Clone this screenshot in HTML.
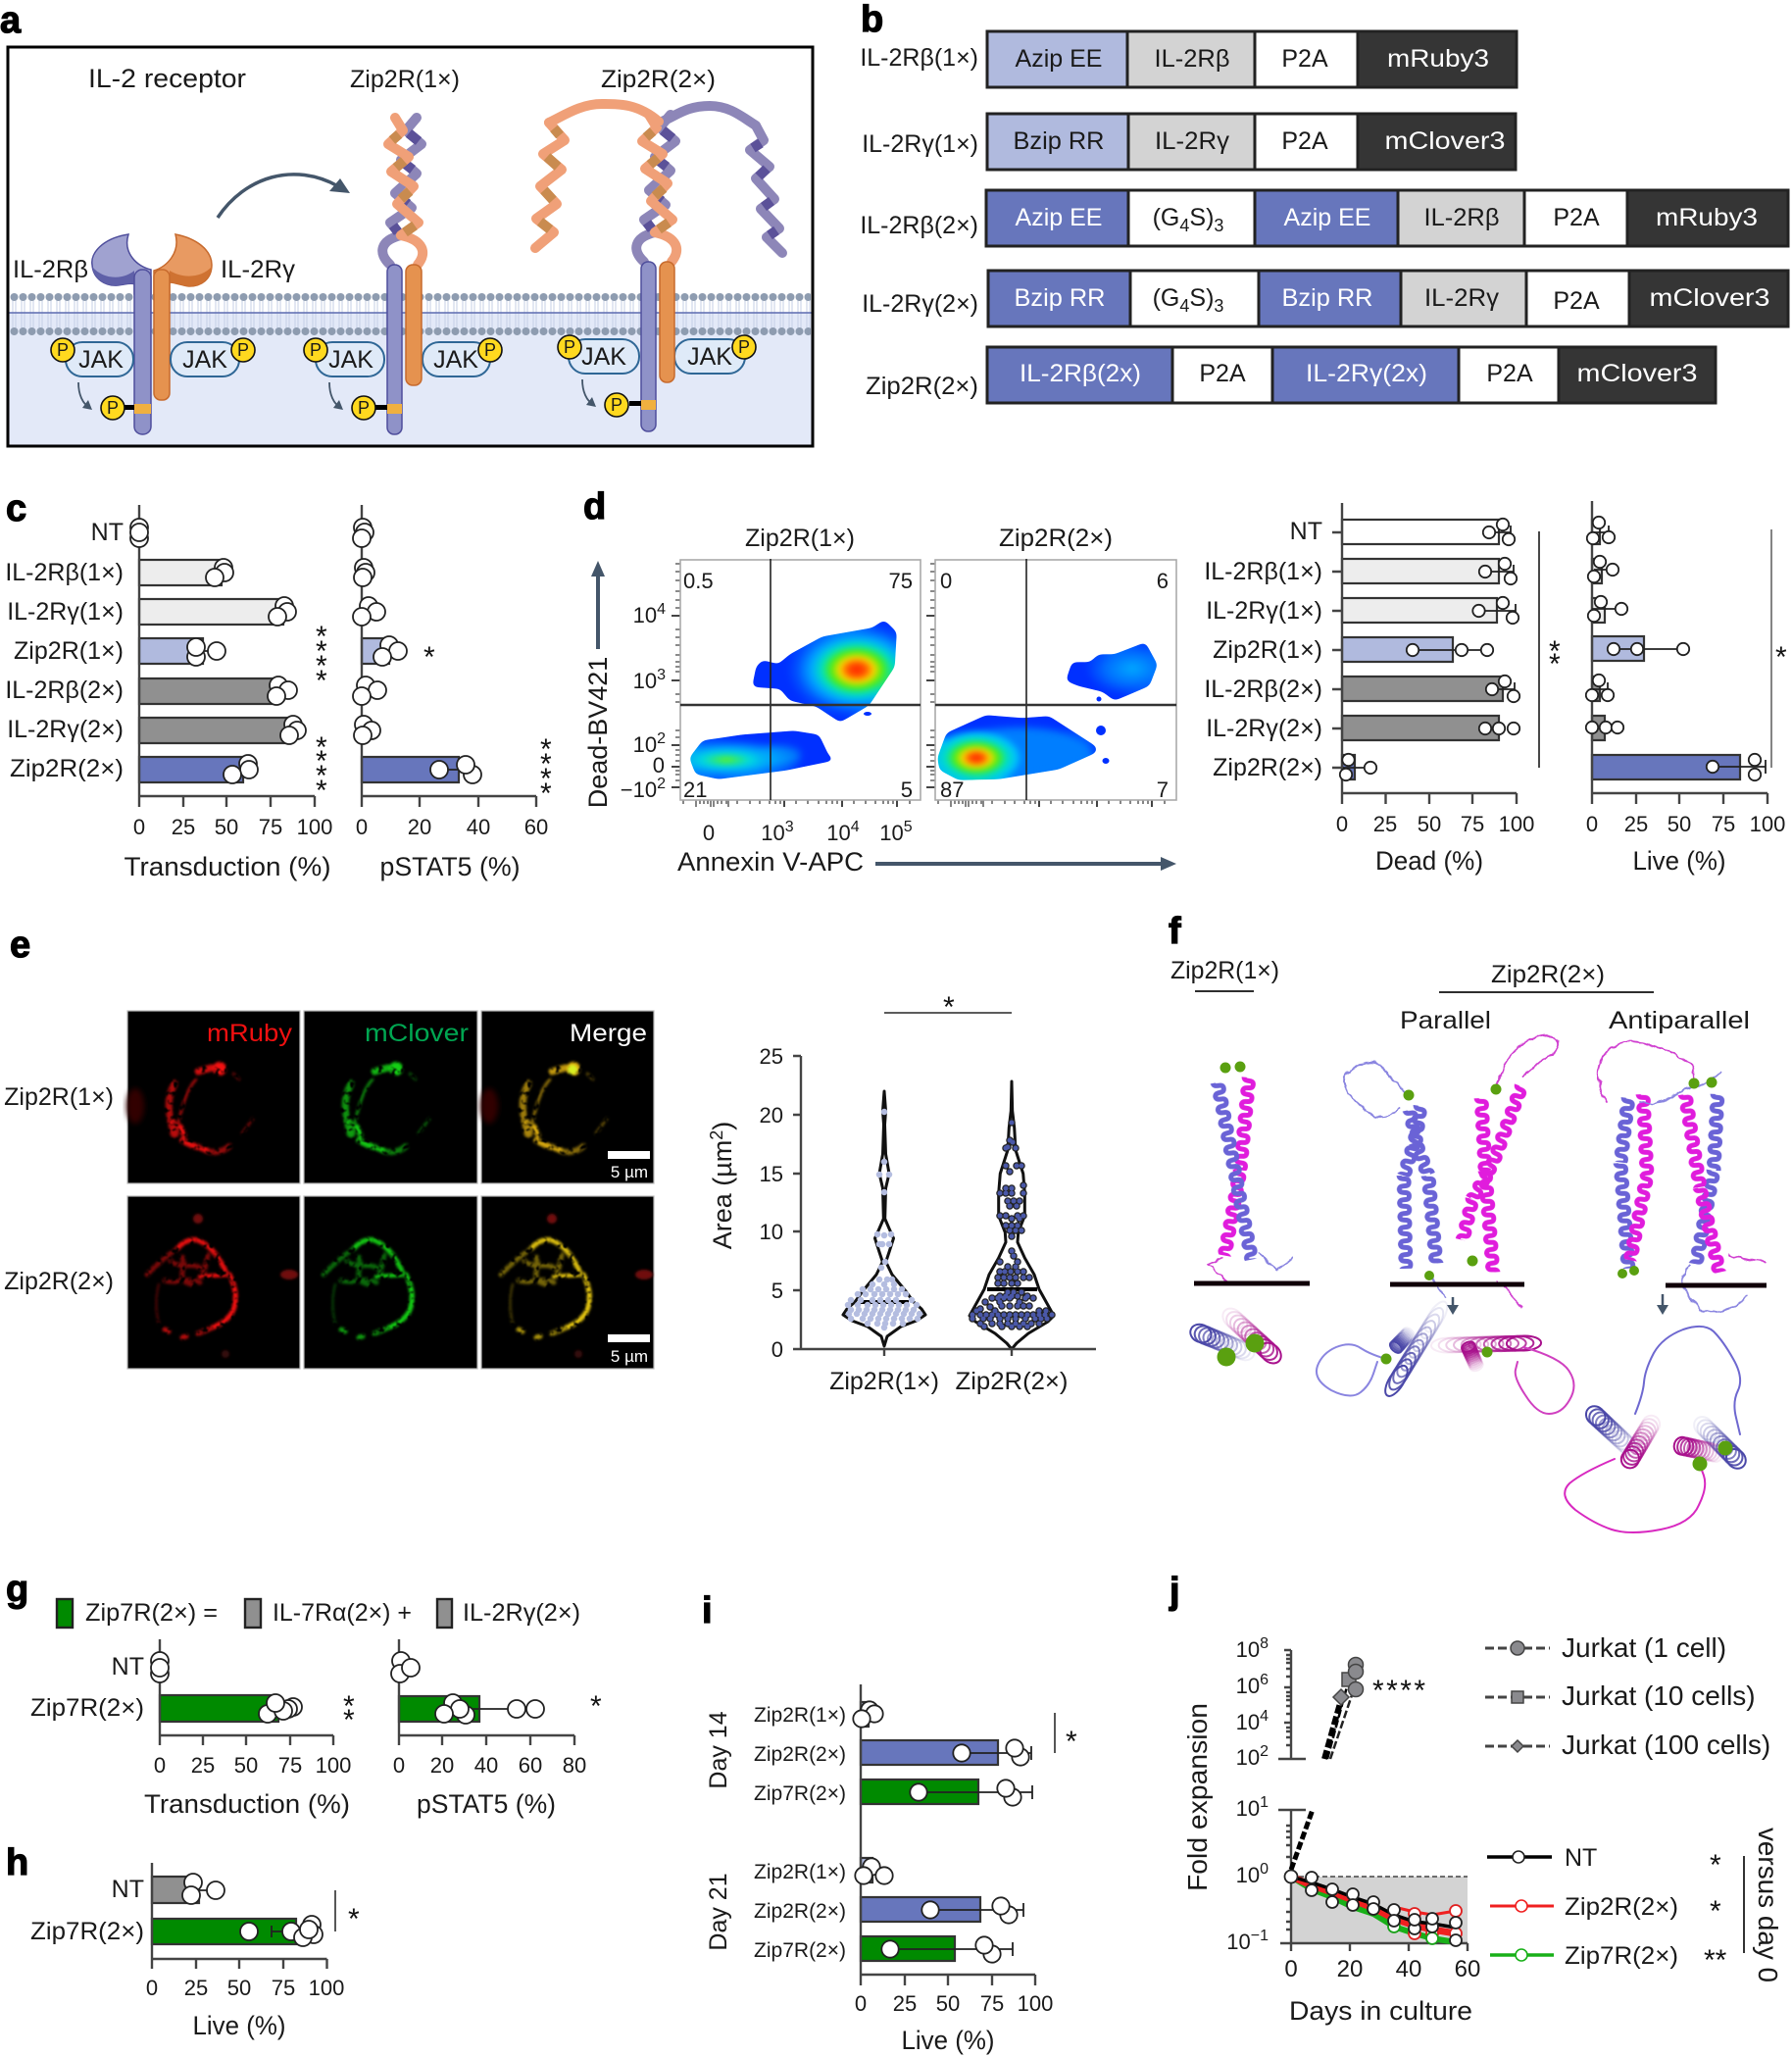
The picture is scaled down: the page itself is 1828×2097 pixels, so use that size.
<!DOCTYPE html>
<html><head><meta charset="utf-8"><title>Figure</title>
<style>
html,body{margin:0;padding:0;background:#fff}
svg{display:block}
text{font-family:"Liberation Sans",sans-serif;fill:#1a1a1a}
.L{font-size:38px;font-weight:bold;fill:#000;stroke:#000;stroke-width:1.2px}
.t{font-size:25px}.a{font-size:27px}.n{font-size:22px}.k{font-size:22px}
.e{text-anchor:end}.m{text-anchor:middle}
.w{fill:#fff}
.s{font-size:30px;fill:#111}
.bar{stroke:#333;stroke-width:2.2}
.ax{stroke:#444;stroke-width:2.4;fill:none}
.o circle{fill:#fff;stroke:#222;stroke-width:1.8}
.er{stroke:#222;stroke-width:1.8;fill:none}
.lp{fill:none;stroke-linejoin:round;stroke-linecap:round}
#ch ellipse{fill:none;stroke:currentColor;stroke-width:2;vector-effect:non-scaling-stroke}
</style></head><body>
<svg xmlns="http://www.w3.org/2000/svg" width="1828" height="2097" viewBox="0 0 1828 2097">
<defs>
<pattern id="lip" x="10" y="299" width="9" height="43" patternUnits="userSpaceOnUse">
<path d="M3 4V39M6 4V39" stroke="#c4cfe6" stroke-width="1"/>
<circle cx="4.5" cy="4" r="4" fill="#8e9cb0"/><circle cx="4.5" cy="39" r="4" fill="#8e9cb0"/>
</pattern>
<pattern id="pb" x="-8" y="0" width="16" height="14" patternUnits="userSpaceOnUse"><path d="M3 -1C3 7 13 0 13 7C13 14 3 7 3 15" fill="none" stroke="#6a63d6" stroke-width="5"/></pattern>
<pattern id="pm" x="-8" y="0" width="16" height="14" patternUnits="userSpaceOnUse"><path d="M3 -1C3 7 13 0 13 7C13 14 3 7 3 15" fill="none" stroke="#e01cdc" stroke-width="5"/></pattern>
<g id="ch">
<ellipse cy="0" rx="10" ry="8" opacity=".08"/><ellipse cy="3.500" rx="10" ry="8" opacity=".14"/><ellipse cy="7" rx="10" ry="8" opacity=".2"/><ellipse cy="10.500" rx="10" ry="8" opacity=".28"/><ellipse cy="14" rx="10" ry="8" opacity=".36"/><ellipse cy="17.500" rx="10" ry="8" opacity=".46"/><ellipse cy="21" rx="10" ry="8" opacity=".56"/><ellipse cy="24.500" rx="10" ry="8" opacity=".68"/><ellipse cy="28" rx="10" ry="8" opacity=".8"/><ellipse cy="31.500" rx="10" ry="8" opacity=".9"/><ellipse cy="35" rx="10" ry="8"/>
</g>
<filter id="b1" x="-20%" y="-20%" width="140%" height="140%"><feGaussianBlur stdDeviation="1.2"/></filter>
<filter id="b3" x="-20%" y="-20%" width="140%" height="140%"><feGaussianBlur stdDeviation="3"/></filter>
<filter id="sp" x="-15%" y="-15%" width="130%" height="130%" color-interpolation-filters="sRGB">
<feGaussianBlur in="SourceGraphic" stdDeviation="1.3" result="b"/>
<feTurbulence type="fractalNoise" baseFrequency=".17" numOctaves="2" seed="4"/>
<feColorMatrix values="0 0 0 0 1 0 0 0 0 1 0 0 0 0 1 0 0 0 4.500 -1.300"/>
<feComposite in="b" operator="in"/>
<feGaussianBlur stdDeviation=".6"/>
</filter>
<filter id="goo" x="-10%" y="-10%" width="120%" height="120%" color-interpolation-filters="sRGB">
<feGaussianBlur in="SourceGraphic" stdDeviation="3"/>
<feColorMatrix values="1 0 0 0 0 0 1 0 0 0 0 0 1 0 0 0 0 0 16 -6"/>
</filter>
<filter id="wg" x="-10%" y="-10%" width="120%" height="120%">
<feTurbulence type="fractalNoise" baseFrequency=".09" numOctaves="2" seed="7" result="n"/>
<feDisplacementMap in="SourceGraphic" in2="n" scale="7" xChannelSelector="R" yChannelSelector="G"/>
</filter>
<radialGradient id="j1"><stop offset="0" stop-color="#ff2000"/><stop offset=".14" stop-color="#ff5a00"/><stop offset=".24" stop-color="#ffd800"/><stop offset=".36" stop-color="#50ee10"/><stop offset=".5" stop-color="#00e0c0"/><stop offset=".64" stop-color="#00a8ff"/><stop offset=".85" stop-color="#0050ff"/><stop offset="1" stop-color="#0030ff"/></radialGradient>
<radialGradient id="j1t"><stop offset="0" stop-color="#ff2000"/><stop offset=".16" stop-color="#ff5a00"/><stop offset=".28" stop-color="#ffd800"/><stop offset=".44" stop-color="#50ee10"/><stop offset=".62" stop-color="#00e0c0"/><stop offset=".82" stop-color="#00c0ff"/><stop offset="1" stop-color="#0080ff" stop-opacity="0"/></radialGradient>
<radialGradient id="j2"><stop offset="0" stop-color="#70f010"/><stop offset=".14" stop-color="#30e870"/><stop offset=".32" stop-color="#00d8e0"/><stop offset=".58" stop-color="#00a0ff"/><stop offset=".82" stop-color="#0060ff"/><stop offset="1" stop-color="#0030ff"/></radialGradient>
<radialGradient id="j3"><stop offset="0" stop-color="#00a8ff"/><stop offset=".55" stop-color="#0070ff"/><stop offset="1" stop-color="#0030ff"/></radialGradient>
<g id="hx" class="lp">
<path d="M398 270C385 258 388 245 409 240" stroke="#8d86b8" stroke-width="10"/>
<polyline points="425,120 414,133 430,147 409,163 425,177 403,197 420,212 398,227 409,240" stroke="#8d86b8" stroke-width="10"/>
<path d="M417 136L427 144M413 167L421 173M407 201L416 208M401 230L406 237" stroke="#5b5199" stroke-width="10" stroke-linecap="butt"/>
<path d="M426 270C436 258 432 245 409 240" stroke="#f0a078" stroke-width="10"/>
<polyline points="403,120 411,133 396,147 417,160 399,175 422,190 405,208 427,227 409,240" stroke="#f0a078" stroke-width="10"/>
<path d="M407 137L400 143M412 164L404 171M418 195L409 203M423 230L413 237" stroke="#c98b4f" stroke-width="10" stroke-linecap="butt"/>
</g>
<g id="c1" fill="none" stroke="currentColor" stroke-linecap="round" filter="url(#sp)">
<circle cx="94" cy="59" r="7" fill="currentColor" stroke="none"/>
<path d="M72 62L86 58" stroke-width="7" opacity=".85"/>
<path d="M48 74C40 90 42 100 44 112" stroke-width="7" opacity=".7"/>
<path d="M70 70C60 80 55 100 52 115" stroke-width="2.500" opacity=".75"/>
<path d="M46 115L48 125" stroke-width="9" opacity=".75"/>
<path d="M54 118L58 127" stroke-width="5"/>
<path d="M56 132C68 140 74 138 80 142" stroke-width="6" opacity=".95"/>
<path d="M82 143C90 146 100 142 104 138" stroke-width="6" opacity=".6"/>
<path d="M108 64L114 70M128 110L117 125" stroke-width="2.500" opacity=".5"/>
</g>
<g id="c2" fill="none" stroke="currentColor" stroke-linecap="round" filter="url(#sp)">
<path d="M52 52C58 46 66 43 72 45C84 50 92 60 100 76" stroke-width="5" opacity=".95"/>
<path d="M74 82L104 80" stroke-width="4"/>
<path d="M104 80C112 95 112 110 106 120C100 128 94 131 89 133" stroke-width="5"/>
<path d="M20 80C30 70 40 60 52 53M44 66C56 76 64 66 76 74M56 62C60 76 48 86 66 90M38 86C52 90 62 82 74 88M82 60L78 78" stroke-width="5" opacity=".5"/>
<path d="M89 133C82 136 78 138 72 140M60 143L56 144M42 138L38 136" stroke-width="5" opacity=".75"/>
<path d="M32 130C28 115 29 100 32 90" stroke-width="2.500" opacity=".3"/>
</g>
<path id="vd" d="M1032 1145h0M1030 1163h0M1033 1165h0M1028 1170h0M1036 1171h0M1026 1171h0M1026 1189h0M1037 1189h0M1042 1189h0M1030 1195h0M1044 1209h0M1026 1212h0M1032 1212h0M1020 1217h0M1026 1217h0M1032 1217h0M1044 1217h0M1028 1225h0M1034 1225h0M1040 1225h0M1030 1230h0M1037 1230h0M1020 1240h0M1026 1240h0M1038 1240h0M1044 1240h0M1032 1243h0M1040 1243h0M1026 1250h0M1032 1250h0M1038 1250h0M1030 1255h0M1036 1255h0M1042 1255h0M1032 1261h0M1032 1276h0M1034 1281h0M1020 1287h0M1038 1287h0M1028 1292h0M1036 1292h0M1020 1297h0M1025 1297h0M1031 1297h0M1038 1297h0M1044 1297h0M1018 1303h0M1024 1303h0M1030 1303h0M1036 1303h0M1044 1303h0M1050 1303h0M1018 1309h0M1024 1309h0M1032 1309h0M1038 1309h0M1028 1318h0M1034 1318h0M1042 1318h0M1020 1322h0M1026 1322h0M1032 1322h0M1038 1322h0M1048 1322h0M1012 1324h0M1018 1324h0M1024 1324h0M1030 1324h0M1046 1324h0M1054 1324h0M1005 1328h0M1020 1328h0M1040 1328h0M1022 1332h0M1030 1332h0M1038 1332h0M1044 1332h0M1050 1332h0M1010 1333h0M1000 1335h0M1015 1337h0M1060 1337h0M1067 1337h0M996 1337h0M992 1341h0M1000 1341h0M1006 1341h0M1012 1341h0M1018 1341h0M1024 1341h0M1030 1341h0M1036 1341h0M1042 1341h0M1048 1341h0M1054 1341h0M1060 1341h0M1066 1341h0M1073 1341h0M992 1345h0M1003 1345h0M1010 1345h0M1020 1345h0M1028 1345h0M1036 1345h0M1046 1345h0M1056 1345h0M1062 1345h0M1068 1345h0M1000 1350h0M1012 1350h0M1020 1350h0M1028 1350h0M1036 1350h0M1044 1350h0M1052 1350h0M1060 1350h0M1004 1353h0M1022 1353h0M1032 1353h0M1040 1353h0M1048 1353h0"/>
<g id="ft" stroke="#444" stroke-width="1.3" fill="none">
<path d="M685 628H694M685 694H694M685 760H694M685 782H694M685 803H694" stroke-width="2"/>
<path d="M689 575H694M689 583H694M689 592H694M689 603H694M689 612H694M689 620H694M689 642H694M689 650H694M689 658H694M689 668H694M689 675H694M689 680H694M689 685H694M689 708H694M689 716H694M689 745H694M689 752H694M689 765H694M689 770H694M689 776H694M689 786H694M689 790H694M689 796H694"/>
<path d="M800 816V823M859 816V823M915 816V823" stroke-width="2"/>
<path d="M697 816V820M710 816V823M714 816V820M718 816V820M722 816V820M725 816V823M728 816V823M732 816V820M736 816V820M741 816V820M743 816V823M752 816V820M765 816V820M775 816V820M785 816V820M791 816V820M796 816V820M812 816V820M824 816V820M835 816V820M843 816V820M849 816V820M854 816V820M871 816V820M883 816V820M893 816V820M901 816V820M906 816V820M911 816V820M928 816V820"/>
</g>
</defs>
<rect width="1828" height="2097" fill="#fff"/>

<!-- panel letters -->
<text class="L" x="0" y="33">a</text><text class="L" x="878" y="32">b</text><text class="L" x="6" y="531">c</text><text class="L" x="595" y="529">d</text><text class="L" x="10" y="976">e</text><text class="L" x="1192" y="962">f</text><text class="L" x="6" y="1633">g</text><text class="L" x="6" y="1912">h</text><text class="L" x="716" y="1655">i</text><text class="L" x="1193" y="1635">j</text>

<!-- panel a -->
<rect x="8" y="48" width="821" height="407" fill="#fff"/>
<rect x="9" y="319" width="819" height="135" fill="#e3e9f8"/>
<rect x="10" y="299" width="817" height="43" fill="url(#lip)"/>
<path d="M9 319H828" stroke="#5c6bb0" stroke-width="1.5"/>
<rect x="8" y="48" width="821" height="407" fill="none" stroke="#000" stroke-width="3"/>
<text class="a" x="90" y="89" textLength="161" lengthAdjust="spacingAndGlyphs">IL-2 receptor</text>
<text class="t" x="357" y="89" textLength="112" lengthAdjust="spacingAndGlyphs">Zip2R(1×)</text>
<text class="t" x="613" y="89" textLength="117" lengthAdjust="spacingAndGlyphs">Zip2R(2×)</text>
<text class="t" x="13" y="283" textLength="77" lengthAdjust="spacingAndGlyphs">IL-2Rβ</text><text class="t" x="225" y="283" textLength="76" lengthAdjust="spacingAndGlyphs">IL-2Rγ</text>
<path d="M222 222C250 180 300 165 345 190" fill="none" stroke="#44566a" stroke-width="3.5"/><path d="M357 197L336 195L347 182Z" fill="#44566a"/>

<!-- receptor 1 -->
<path d="M131 239C105 243 92 258 94 270C95 285 108 292 120 291C128 290 135 288 137 290L137 300H154V275C140 272 125 258 131 239Z" fill="#a0a2d0" stroke="#4f4e9c" stroke-width="1.5"/>
<path d="M94 272C96 285 108 292 120 291C128 290 135 288 137 290V276C125 286 105 285 94 272Z" fill="#5f60a8"/>
<path d="M179 239C200 243 216 255 216 270C216 285 205 292 193 292C185 291 178 288 173 288V300H157V276C170 272 184 258 179 239Z" fill="#e89a62" stroke="#c76a2d" stroke-width="1.5"/>
<path d="M216 272C214 285 205 292 193 292C185 291 178 288 173 288V276C186 284 205 284 216 272Z" fill="#cf7232"/>
<rect x="137" y="275" width="17" height="168" rx="8" fill="#8f92c8" stroke="#4f4e9c" stroke-width="1.5"/>
<rect x="157" y="275" width="16" height="133" rx="7" fill="#e5924f" stroke="#c76a2d" stroke-width="1.5"/>
<g fill="#dfeaf8" stroke="#2f6796" stroke-width="2">
<rect x="67" y="349" width="69" height="35" rx="17"/><rect x="174" y="349" width="70" height="35" rx="17"/>
<rect x="322" y="349" width="70" height="35" rx="17"/><rect x="431" y="349" width="69" height="35" rx="17"/>
<rect x="580" y="346" width="72" height="35" rx="17"/><rect x="688" y="346" width="72" height="35" rx="17"/>
</g>
<!-- receptor 2 -->
<use href="#hx"/>
<rect x="395" y="270" width="15" height="173" rx="7" fill="#8f92c8" stroke="#4f4e9c" stroke-width="1.5"/>
<rect x="414" y="270" width="16" height="123" rx="7" fill="#e5924f" stroke="#c76a2d" stroke-width="1.5"/>
<!-- receptor 3 -->
<use href="#hx" transform="translate(259,-3)"/>
<g class="lp" stroke-width="10">
<path d="M675 124C690 118 700 108 724 108C745 108 758 120 771 128" stroke="#8d86b8"/>
<polyline points="771,128 779,143 765,153 785,170 771,182 790,203 776,213 795,233 782,242 798,258" stroke="#8d86b8"/>
<path d="M776 146L768 151M782 172L774 180M787 205L779 211M792 235L785 240" stroke="#5b5199" stroke-linecap="butt"/>
<path d="M672 124C650 105 630 106 614 106C592 106 575 118 560 125" stroke="#f0a078"/>
<polyline points="560,125 576,143 554,157 573,173 551,190 568,208 547,223 565,237 546,253" stroke="#f0a078"/>
<path d="M565 131L571 138M558 160L569 170M555 194L564 204M551 226L561 234" stroke="#c98b4f" stroke-linecap="butt"/>
</g>
<rect x="654" y="267" width="15" height="173" rx="7" fill="#8f92c8" stroke="#4f4e9c" stroke-width="1.5"/>
<rect x="673" y="267" width="15" height="123" rx="7" fill="#e5924f" stroke="#c76a2d" stroke-width="1.5"/>
<g fill="#f0b040"><rect x="137" y="412" width="17" height="10"/><rect x="395" y="412" width="15" height="10"/><rect x="654" y="408" width="15" height="10"/></g>
<g fill="#000"><rect x="127" y="413" width="10" height="5"/><rect x="382" y="413" width="13" height="5"/><rect x="642" y="409" width="12" height="5"/></g>
<g fill="none" stroke="#44566a" stroke-width="1.8">
<path d="M80 390C80 402 84 412 92 416"/><path d="M336 390C336 402 340 412 348 416"/><path d="M594 387C594 399 598 409 606 413"/>
</g>
<g fill="#44566a"><path d="M94 418L84 416L90 408Z"/><path d="M350 418L340 416L346 408Z"/><path d="M608 415L598 413L604 405Z"/></g>
<g fill="#ffd91f" stroke="#111" stroke-width="1.6">
<circle cx="64" cy="357" r="12"/><circle cx="248" cy="357" r="12"/><circle cx="115" cy="416" r="12"/>
<circle cx="322" cy="357" r="12"/><circle cx="500" cy="357" r="12"/><circle cx="371" cy="416" r="12"/>
<circle cx="581" cy="354" r="12"/><circle cx="759" cy="354" r="12"/><circle cx="629" cy="413" r="12"/>
</g>
<g font-size="18">
<text class="m" x="64" y="363">P</text><text class="m" x="248" y="363">P</text><text class="m" x="115" y="422">P</text>
<text class="m" x="322" y="363">P</text><text class="m" x="500" y="363">P</text><text class="m" x="371" y="422">P</text>
<text class="m" x="581" y="360">P</text><text class="m" x="759" y="360">P</text><text class="m" x="629" y="419">P</text>
</g>
<text class="t m" x="103" y="375">JAK</text><text class="t m" x="209" y="375">JAK</text><text class="t m" x="358" y="375">JAK</text><text class="t m" x="465" y="375">JAK</text><text class="t m" x="616" y="372">JAK</text><text class="t m" x="724" y="372">JAK</text>

<!-- panel b -->
<g stroke="#222" stroke-width="3">
<rect x="1007" y="32" width="143" height="57" fill="#b0bade"/><rect x="1150" y="32" width="130" height="57" fill="#d3d3d3"/><rect x="1280" y="32" width="105" height="57" fill="#fff"/><rect x="1385" y="32" width="162" height="57" fill="#353535"/>
<rect x="1007" y="116" width="144" height="57" fill="#b0bade"/><rect x="1151" y="116" width="129" height="57" fill="#d3d3d3"/><rect x="1280" y="116" width="105" height="57" fill="#fff"/><rect x="1385" y="116" width="161" height="57" fill="#353535"/>
<rect x="1006" y="194" width="145" height="57" fill="#6776bc"/><rect x="1151" y="194" width="129" height="57" fill="#fff"/><rect x="1280" y="194" width="146" height="57" fill="#6776bc"/><rect x="1426" y="194" width="129" height="57" fill="#d3d3d3"/><rect x="1555" y="194" width="105" height="57" fill="#fff"/><rect x="1660" y="194" width="164" height="57" fill="#353535"/>
<rect x="1008" y="276" width="145" height="57" fill="#6776bc"/><rect x="1153" y="276" width="131" height="57" fill="#fff"/><rect x="1284" y="276" width="145" height="57" fill="#6776bc"/><rect x="1429" y="276" width="128" height="57" fill="#d3d3d3"/><rect x="1557" y="276" width="105" height="57" fill="#fff"/><rect x="1662" y="276" width="162" height="57" fill="#353535"/>
<rect x="1007" y="354" width="189" height="57" fill="#6776bc"/><rect x="1196" y="354" width="102" height="57" fill="#fff"/><rect x="1298" y="354" width="190" height="57" fill="#6776bc"/><rect x="1488" y="354" width="102" height="57" fill="#fff"/><rect x="1590" y="354" width="160" height="57" fill="#353535"/>
</g>
<text class="t e" x="998" y="67">IL-2Rβ(1×)</text><text class="t e" x="998" y="155">IL-2Rγ(1×)</text><text class="t e" x="998" y="238">IL-2Rβ(2×)</text><text class="t e" x="998" y="318">IL-2Rγ(2×)</text><text class="t e" x="998" y="402" textLength="115" lengthAdjust="spacingAndGlyphs">Zip2R(2×)</text>
<text class="t m" x="1080" y="68">Azip EE</text><text class="t m" x="1216" y="68" textLength="77" lengthAdjust="spacingAndGlyphs">IL-2Rβ</text><text class="t m" x="1331" y="68">P2A</text><text class="t m w" x="1467" y="68" textLength="104" lengthAdjust="spacingAndGlyphs">mRuby3</text>
<text class="t m" x="1080" y="152" textLength="93" lengthAdjust="spacingAndGlyphs">Bzip RR</text><text class="t m" x="1216" y="152" textLength="76" lengthAdjust="spacingAndGlyphs">IL-2Rγ</text><text class="t m" x="1331" y="152">P2A</text><text class="t m w" x="1474" y="152" textLength="123" lengthAdjust="spacingAndGlyphs">mClover3</text>
<text class="t m w" x="1080" y="230">Azip EE</text><text class="t m" x="1212" y="230">(G<tspan dy="6" font-size="18">4</tspan><tspan dy="-6">S)</tspan><tspan dy="6" font-size="18">3</tspan></text><text class="t m w" x="1354" y="230">Azip EE</text><text class="t m" x="1491" y="230" textLength="77" lengthAdjust="spacingAndGlyphs">IL-2Rβ</text><text class="t m" x="1608" y="230">P2A</text><text class="t m w" x="1741" y="230" textLength="104" lengthAdjust="spacingAndGlyphs">mRuby3</text>
<text class="t m w" x="1081" y="312" textLength="93" lengthAdjust="spacingAndGlyphs">Bzip RR</text><text class="t m" x="1212" y="312">(G<tspan dy="6" font-size="18">4</tspan><tspan dy="-6">S)</tspan><tspan dy="6" font-size="18">3</tspan></text><text class="t m w" x="1354" y="312" textLength="93" lengthAdjust="spacingAndGlyphs">Bzip RR</text><text class="t m" x="1491" y="312" textLength="76" lengthAdjust="spacingAndGlyphs">IL-2Rγ</text><text class="t m" x="1608" y="315">P2A</text><text class="t m w" x="1744" y="312" textLength="123" lengthAdjust="spacingAndGlyphs">mClover3</text>
<text class="t m w" x="1102" y="389" textLength="124" lengthAdjust="spacingAndGlyphs">IL-2Rβ(2x)</text><text class="t m" x="1247" y="389">P2A</text><text class="t m w" x="1394" y="389" textLength="124" lengthAdjust="spacingAndGlyphs">IL-2Rγ(2x)</text><text class="t m" x="1540" y="389">P2A</text><text class="t m w" x="1670" y="389" textLength="123" lengthAdjust="spacingAndGlyphs">mClover3</text>

<!-- panel c -->
<text class="t e" x="126" y="551">NT</text><text class="t e" x="126" y="592">IL-2Rβ(1×)</text><text class="t e" x="126" y="632">IL-2Rγ(1×)</text><text class="t e" x="126" y="672" textLength="112" lengthAdjust="spacingAndGlyphs">Zip2R(1×)</text><text class="t e" x="126" y="712">IL-2Rβ(2×)</text><text class="t e" x="126" y="752">IL-2Rγ(2×)</text><text class="t e" x="126" y="792" textLength="116" lengthAdjust="spacingAndGlyphs">Zip2R(2×)</text>
<g class="bar">
<rect x="142" y="571" width="84" height="26" fill="#ededed"/><rect x="142" y="611" width="147" height="26" fill="#ededed"/><rect x="142" y="651" width="65" height="26" fill="#b0bade"/><rect x="142" y="692" width="139" height="26" fill="#909090"/><rect x="142" y="732" width="151" height="26" fill="#909090"/><rect x="142" y="772" width="106" height="26" fill="#6776bc"/>
<rect x="369" y="651" width="28" height="26" fill="#b0bade"/><rect x="369" y="772" width="99" height="26" fill="#6776bc"/>
</g>
<path class="ax" d="M142 515V823M142 812H321M187 812V823M231 812V823M276 812V823M321 812V823"/>
<path class="ax" d="M369 515V823M369 812H547M428 812V823M488 812V823M547 812V823"/>
<path class="er" d="M207 664H221M448 785H482"/>
<g class="o">
<circle cx="142" cy="538" r="9"/><circle cx="142" cy="549" r="9"/><circle cx="142" cy="543" r="9"/>
<circle cx="228" cy="579" r="9"/><circle cx="229" cy="584" r="9"/><circle cx="219" cy="589" r="9"/>
<circle cx="290" cy="618" r="9"/><circle cx="293" cy="624" r="9"/><circle cx="283" cy="629" r="9"/>
<circle cx="200" cy="670" r="9"/><circle cx="200" cy="660" r="9"/><circle cx="221" cy="664" r="9"/>
<circle cx="284" cy="699" r="9"/><circle cx="294" cy="704" r="9"/><circle cx="282" cy="710" r="9"/>
<circle cx="299" cy="739" r="9"/><circle cx="303" cy="745" r="9"/><circle cx="295" cy="750" r="9"/>
<circle cx="253" cy="779" r="9"/><circle cx="254" cy="785" r="9"/><circle cx="237" cy="790" r="9"/>
<circle cx="370" cy="538" r="9"/><circle cx="372" cy="543" r="9"/><circle cx="369" cy="549" r="9"/>
<circle cx="371" cy="579" r="9"/><circle cx="373" cy="584" r="9"/><circle cx="370" cy="589" r="9"/>
<circle cx="376" cy="618" r="9"/><circle cx="384" cy="624" r="9"/><circle cx="369" cy="629" r="9"/>
<circle cx="397" cy="658" r="9"/><circle cx="406" cy="664" r="9"/><circle cx="390" cy="670" r="9"/>
<circle cx="373" cy="699" r="9"/><circle cx="385" cy="704" r="9"/><circle cx="369" cy="710" r="9"/>
<circle cx="371" cy="739" r="9"/><circle cx="379" cy="745" r="9"/><circle cx="370" cy="750" r="9"/>
<circle cx="482" cy="790" r="9"/><circle cx="475" cy="780" r="9"/><circle cx="448" cy="785" r="9"/>
</g>
<text class="s" x="322 322 322 322" y="659 674 689 704">****</text>
<text class="s" x="322 322 322 322" y="772 786 801 816">****</text>
<text class="s" x="432" y="680">*</text>
<text class="s" x="551 551 551 551" y="774 789 804 819">****</text>
<text class="n m" x="142" y="851">0</text><text class="n m" x="187" y="851">25</text><text class="n m" x="231" y="851">50</text><text class="n m" x="276" y="851">75</text><text class="n m" x="321" y="851">100</text>
<text class="n m" x="369" y="851">0</text><text class="n m" x="428" y="851">20</text><text class="n m" x="488" y="851">40</text><text class="n m" x="547" y="851">60</text>
<text class="a m" x="232" y="893" textLength="211" lengthAdjust="spacingAndGlyphs">Transduction (%)</text>
<text class="a m" x="459" y="893" textLength="143" lengthAdjust="spacingAndGlyphs">pSTAT5 (%)</text>

<!-- panel d flow -->
<text class="t m" x="816" y="557" textLength="112" lengthAdjust="spacingAndGlyphs">Zip2R(1×)</text><text class="t m" x="1077" y="557" textLength="116" lengthAdjust="spacingAndGlyphs">Zip2R(2×)</text>
<use href="#ft"/><use href="#ft" transform="translate(260,0)"/>
<clipPath id="cb1"><polygon points="768,700 772,680 778,674 794,678 806,668 839,650 890,641 902,633 914,645 912,680 886,719 857,736 833,720 806,714 796,702"/></clipPath>
<g filter="url(#goo)">
<polygon points="768,700 772,680 778,674 794,678 806,668 839,650 890,641 902,633 914,645 912,680 886,719 857,736 833,720 806,714 796,702" fill="#0030ff"/>
<ellipse cx="874" cy="683" rx="72" ry="50" fill="url(#j1)" clip-path="url(#cb1)"/>
</g>
<clipPath id="cb2"><polygon points="704,773 717,756 757,750 810,746 835,750 845,771 851,775 802,785 733,794 710,789"/></clipPath>
<g filter="url(#goo)">
<polygon points="704,773 717,756 757,750 810,746 835,750 845,771 851,775 802,785 733,794 710,789" fill="#0030ff"/>
<ellipse cx="741" cy="775" rx="78" ry="21" fill="url(#j2)" clip-path="url(#cb2)"/>
<ellipse cx="795" cy="770" rx="22" ry="10" fill="#00b0f8" opacity=".5" filter="url(#b3)" clip-path="url(#cb2)"/>
</g>
<clipPath id="cb3"><polygon points="1088,694 1094,676 1112,676 1121,668 1137,668 1168,656 1180,678 1172,699 1137,714 1125,705 1100,699"/></clipPath>
<g filter="url(#goo)">
<polygon points="1088,694 1094,676 1112,676 1121,668 1137,668 1168,656 1180,678 1172,699 1137,714 1125,705 1100,699" fill="#0030ff"/>
<ellipse cx="1155" cy="682" rx="48" ry="28" fill="url(#j3)" clip-path="url(#cb3)"/>
</g>
<clipPath id="cb4"><polygon points="957,773 966,748 1006,730 1043,733 1070,731 1118,762 1118,767 1080,784 1019,794 978,795 959,785"/></clipPath>
<g filter="url(#goo)">
<polygon points="957,773 966,748 1006,730 1043,733 1070,731 1118,762 1118,767 1080,784 1019,794 978,795 959,785" fill="#0030ff"/>
<ellipse cx="1040" cy="768" rx="75" ry="26" fill="#00a0ff" opacity=".7" filter="url(#b3)" clip-path="url(#cb4)"/>
<ellipse cx="996" cy="773" rx="50" ry="30" fill="url(#j1t)" clip-path="url(#cb4)"/>
</g>
<g fill="#0030ff"><ellipse cx="885" cy="728" rx="4" ry="2"/><ellipse cx="1121" cy="713" rx="2.5" ry="2.5"/><ellipse cx="1123" cy="745" rx="5" ry="5"/><ellipse cx="1128" cy="776" rx="3.5" ry="3"/></g>
<rect x="694" y="571" width="245" height="245" fill="none" stroke="#aaa" stroke-width="1.6"/><rect x="954" y="571" width="246" height="245" fill="none" stroke="#aaa" stroke-width="1.6"/>
<path d="M786 570V816M1047 570V816" stroke="#222" stroke-width="1.6"/><path d="M694 719H939M954 719H1200" stroke="#333" stroke-width="2.4"/>
<text class="k" x="697" y="600">0.5</text><text class="k e" x="931" y="600">75</text><text class="k" x="697" y="813">21</text><text class="k e" x="931" y="813">5</text>
<text class="k" x="959" y="600">0</text><text class="k e" x="1192" y="600">6</text><text class="k" x="959" y="813">87</text><text class="k e" x="1192" y="813">7</text>
<text class="n e" x="679" y="635">10<tspan dy="-9" font-size="16">4</tspan></text><text class="n e" x="679" y="702">10<tspan dy="-9" font-size="16">3</tspan></text><text class="n e" x="679" y="767">10<tspan dy="-9" font-size="16">2</tspan></text><text class="n e" x="678" y="788">0</text><text class="n e" x="679" y="813">−10<tspan dy="-9" font-size="16">2</tspan></text>
<text class="n m" x="723" y="857">0</text><text class="n m" x="793" y="857">10<tspan dy="-9" font-size="16">3</tspan></text><text class="n m" x="860" y="857">10<tspan dy="-9" font-size="16">4</tspan></text><text class="n m" x="914" y="857">10<tspan dy="-9" font-size="16">5</tspan></text>
<text class="a" x="691" y="888" textLength="190" lengthAdjust="spacingAndGlyphs">Annexin V-APC</text>
<path d="M893 881H1190" stroke="#44566a" stroke-width="4"/><path d="M1200 881L1184 874V888Z" fill="#44566a"/>
<text class="a m" transform="translate(619,747) rotate(-90)">Dead-BV421</text>
<path d="M610 662V582" stroke="#44566a" stroke-width="4"/><path d="M610 572L603 588H617Z" fill="#44566a"/>

<!-- panel d bars -->
<text class="t e" x="1349" y="550">NT</text><text class="t e" x="1349" y="591">IL-2Rβ(1×)</text><text class="t e" x="1349" y="631">IL-2Rγ(1×)</text><text class="t e" x="1349" y="671">Zip2R(1×)</text><text class="t e" x="1349" y="711">IL-2Rβ(2×)</text><text class="t e" x="1349" y="751">IL-2Rγ(2×)</text><text class="t e" x="1349" y="791">Zip2R(2×)</text>
<g class="bar">
<rect x="1369" y="530" width="160" height="25" fill="#fff"/><rect x="1369" y="570" width="160" height="25" fill="#ededed"/><rect x="1369" y="610" width="158" height="25" fill="#ededed"/><rect x="1369" y="650" width="113" height="25" fill="#b0bade"/><rect x="1369" y="690" width="164" height="25" fill="#909090"/><rect x="1369" y="730" width="160" height="25" fill="#909090"/><rect x="1369" y="770" width="13" height="25" fill="#6776bc"/>
<rect x="1624" y="530" width="8" height="25" fill="#fff"/><rect x="1624" y="570" width="10" height="25" fill="#ededed"/><rect x="1624" y="610" width="13" height="25" fill="#ededed"/><rect x="1624" y="649" width="53" height="25" fill="#b0bade"/><rect x="1624" y="690" width="8" height="25" fill="#909090"/><rect x="1624" y="730" width="13" height="25" fill="#909090"/><rect x="1624" y="770" width="151" height="25" fill="#6776bc"/>
</g>
<path class="ax" d="M1369 513V820M1369 809H1547M1413.500 809V820M1458 809V820M1502 809V820M1547 809V820M1359 543H1369M1359 583H1369M1359 623H1369M1359 663H1369M1359 703H1369M1359 743H1369M1359 783H1369"/>
<path class="ax" d="M1624 511V820M1624 809H1803M1669 809V820M1713 809V820M1758 809V820M1803 809V820"/>
<path class="er" d="M1519 543H1541M1541 536V550M1515 583H1544M1544 576V590M1508 623H1546M1546 616V630M1441 663H1517M1517 656V670M1522 703H1545M1545 696V710M1370 783H1398"/>
<path class="er" d="M1625 543H1641M1641 536V550M1626 581H1645M1624 621H1654M1646 662H1717M1624 703H1640M1640 696V710M1747 782H1801M1801 775V789"/>
<g class="o">
<circle cx="1533" cy="535" r="6.2"/><circle cx="1519" cy="543" r="6.2"/><circle cx="1539" cy="550" r="6.2"/>
<circle cx="1535" cy="575" r="6.2"/><circle cx="1515" cy="583" r="6.2"/><circle cx="1541" cy="590" r="6.2"/>
<circle cx="1533" cy="615" r="6.2"/><circle cx="1508.500" cy="623" r="6.2"/><circle cx="1543" cy="630" r="6.2"/>
<circle cx="1441" cy="663" r="6.2"/><circle cx="1491" cy="663" r="6.2"/><circle cx="1517" cy="663" r="6.2"/>
<circle cx="1535" cy="695" r="6.2"/><circle cx="1522" cy="703" r="6.2"/><circle cx="1544" cy="710" r="6.2"/>
<circle cx="1515" cy="743" r="6.2"/><circle cx="1529" cy="743" r="6.2"/><circle cx="1544" cy="743" r="6.2"/>
<circle cx="1375.500" cy="775" r="6.2"/><circle cx="1398" cy="783" r="6.2"/><circle cx="1373" cy="790" r="6.2"/>
<circle cx="1631" cy="533" r="6.2"/><circle cx="1625" cy="549" r="6.2"/><circle cx="1641" cy="548" r="6.2"/>
<circle cx="1632" cy="573" r="6.2"/><circle cx="1645" cy="581" r="6.2"/><circle cx="1626" cy="588" r="6.2"/>
<circle cx="1633" cy="614" r="6.2"/><circle cx="1654" cy="621" r="6.2"/><circle cx="1626" cy="628" r="6.2"/>
<circle cx="1646" cy="662" r="6.2"/><circle cx="1670" cy="662" r="6.2"/><circle cx="1717" cy="662" r="6.2"/>
<circle cx="1631" cy="694" r="6.2"/><circle cx="1640" cy="709" r="6.2"/><circle cx="1624" cy="709" r="6.2"/>
<circle cx="1624" cy="742" r="6.2"/><circle cx="1638" cy="742" r="6.2"/><circle cx="1650" cy="742" r="6.2"/>
<circle cx="1790" cy="775" r="6.2"/><circle cx="1747" cy="782" r="6.2"/><circle cx="1790" cy="790" r="6.2"/>
</g>
<path d="M1570 542V783" stroke="#333" stroke-width="1.8"/><path d="M1807 540V783" stroke="#777" stroke-width="1.8"/>
<text class="s" x="1580 1580" y="674 687">**</text><text class="s" x="1811" y="680">*</text>
<text class="n m" x="1369" y="848">0</text><text class="n m" x="1413" y="848">25</text><text class="n m" x="1458" y="848">50</text><text class="n m" x="1502" y="848">75</text><text class="n m" x="1547" y="848">100</text>
<text class="n m" x="1624" y="848">0</text><text class="n m" x="1669" y="848">25</text><text class="n m" x="1713" y="848">50</text><text class="n m" x="1758" y="848">75</text><text class="n m" x="1803" y="848">100</text>
<text class="a m" x="1458" y="887" textLength="110" lengthAdjust="spacingAndGlyphs">Dead (%)</text><text class="a m" x="1713" y="887" textLength="95" lengthAdjust="spacingAndGlyphs">Live (%)</text>

<!-- panel e -->
<text class="t e" x="116" y="1127">Zip2R(1×)</text><text class="t e" x="116" y="1315">Zip2R(2×)</text>
<g fill="#000" stroke="#bbb" stroke-width="1.2">
<rect x="130" y="1031" width="176" height="176"/><rect x="310" y="1031" width="177" height="176"/><rect x="491" y="1031" width="176" height="176"/>
<rect x="130" y="1220" width="176" height="176"/><rect x="310" y="1220" width="177" height="176"/><rect x="491" y="1220" width="176" height="176"/>
</g>
<ellipse cx="138" cy="1128" rx="9" ry="18" fill="#300404" filter="url(#b3)"/><ellipse cx="499" cy="1128" rx="9" ry="18" fill="#300404" filter="url(#b3)"/>
<use href="#c1" transform="translate(130,1031)" style="color:#f41010"/>
<use href="#c1" transform="translate(310,1031)" style="color:#14d014"/>
<use href="#c1" transform="translate(491,1031)" style="color:#e0b010"/>
<circle cx="584" cy="1091" r="5" fill="#d8f020" filter="url(#b1)"/>
<circle cx="202" cy="1243" r="5" fill="#701010" filter="url(#b1)"/><circle cx="563" cy="1243" r="5" fill="#701010" filter="url(#b1)"/>
<ellipse cx="295" cy="1300" rx="9" ry="5" fill="#701010" filter="url(#b1)"/><ellipse cx="657" cy="1300" rx="9" ry="5" fill="#701010" filter="url(#b1)"/>
<circle cx="230" cy="1381" r="4" fill="#350808" filter="url(#b1)"/><circle cx="590" cy="1381" r="4" fill="#350808" filter="url(#b1)"/>
<use href="#c2" transform="translate(130,1220)" style="color:#f41010"/>
<use href="#c2" transform="translate(310,1220)" style="color:#14d014"/>
<use href="#c2" transform="translate(491,1220)" style="color:#e8c810"/>
<text class="t e" x="298" y="1062" style="fill:#f01010" textLength="87" lengthAdjust="spacingAndGlyphs">mRuby</text><text class="t e" x="478" y="1062" style="fill:#00a651" textLength="106" lengthAdjust="spacingAndGlyphs">mClover</text><text class="t e w" x="660" y="1062" textLength="79" lengthAdjust="spacingAndGlyphs">Merge</text>
<rect x="620" y="1174" width="43" height="8" fill="#fff"/><rect x="620" y="1361" width="43" height="8" fill="#fff"/>
<text class="m w" font-size="17" x="642" y="1201">5 µm</text><text class="m w" font-size="17" x="642" y="1389">5 µm</text>

<!-- violin -->
<path d="M902 1033H1032" stroke="#444" stroke-width="1.8"/><text class="s" x="962" y="1037">*</text>
<polygon points="902,1113 900.500,1133 901.500,1147 900.500,1177 897,1197 900.500,1212 901.300,1243 897,1253 892.500,1263 897,1277 900.300,1287 894,1300 880,1317 872,1328 864,1335 860,1341 869,1347 885,1353 899,1363 902,1373 905,1363 919,1353 935,1347 944,1341 940,1335 932,1328 924,1317 910,1300 903.700,1287 907,1277 911.500,1263 907,1253 902.700,1243 903.500,1212 907,1197 903.500,1177 902.500,1147 903.500,1133" fill="#fff" stroke="#111" stroke-width="3" stroke-linejoin="round"/>
<polygon points="1032,1103 1031.300,1133 1029.300,1150 1028,1173 1020.300,1197 1018.700,1217 1018.700,1240 1025.300,1257 1026,1267 1018.700,1283 1009,1300 1004,1315 994,1333 989,1342 995,1348 1015,1360 1027,1370 1032,1376 1037,1370 1049,1360 1069,1348 1075,1342 1070,1333 1060,1315 1055,1300 1045.300,1283 1038,1267 1038.700,1257 1045.300,1240 1045.300,1217 1043.700,1197 1036,1173 1034.700,1150 1032.700,1133" fill="#fff" stroke="#111" stroke-width="3" stroke-linejoin="round"/>
<path d="M877 1328H927M1007 1315H1058" stroke="#000" stroke-width="4"/>
<path fill="none" stroke="#b4bde0" stroke-width="6.500" stroke-linecap="round" d="M902 1134h0M902 1185h0M897 1198h0M907 1198h0M902 1216h0M895 1259h0M902 1260h0M909 1259h0M897 1269h0M900 1269h0M907 1269h0M903 1287h0M899 1293h0M897 1305h0M905 1305h0M910 1305h0M890 1310h0M902 1310h0M912 1310h0M880 1315h0M888 1315h0M896 1315h0M904 1315h0M912 1315h0M920 1315h0M875 1320h0M883 1320h0M892 1320h0M900 1320h0M908 1320h0M916 1320h0M924 1320h0M868 1326h0M878 1326h0M890 1326h0M898 1326h0M906 1326h0M914 1326h0M930 1326h0M865 1331h0M875 1331h0M885 1331h0M893 1331h0M901 1331h0M909 1331h0M917 1331h0M925 1331h0M935 1331h0M868 1336h0M876 1336h0M884 1336h0M892 1336h0M900 1336h0M908 1336h0M916 1336h0M924 1336h0M932 1336h0M866 1340h0M874 1340h0M882 1340h0M890 1340h0M898 1340h0M906 1340h0M914 1340h0M922 1340h0M930 1340h0M938 1340h0M868 1345h0M880 1345h0M888 1345h0M896 1345h0M904 1345h0M912 1345h0M920 1345h0M928 1345h0M936 1345h0M885 1350h0M895 1350h0M903 1350h0M911 1350h0M921 1350h0M902 1354h0"/>
<g fill="none" stroke-linecap="round"><use href="#vd" stroke="#222" stroke-width="7.500"/><use href="#vd" stroke="#4a58a8" stroke-width="5"/></g>
<path class="ax" d="M817 1077V1376M809 1077H817M809 1137H817M809 1197H817M809 1256H817M809 1316H817M809 1376H1118M902 1376V1383M1032 1376V1383"/>
<text class="n e" x="799" y="1085">25</text><text class="n e" x="799" y="1145">20</text><text class="n e" x="799" y="1205">15</text><text class="n e" x="799" y="1264">10</text><text class="n e" x="799" y="1324">5</text><text class="n e" x="799" y="1384">0</text>
<text class="a m" transform="translate(746,1209) rotate(-90)">Area (µm<tspan dy="-9" font-size="18">2</tspan><tspan dy="9">)</tspan></text>
<text class="t m" x="902" y="1417">Zip2R(1×)</text><text class="t m" x="1032" y="1417" textLength="115" lengthAdjust="spacingAndGlyphs">Zip2R(2×)</text>

<!-- panel f -->
<text class="t" x="1194" y="998" textLength="111" lengthAdjust="spacingAndGlyphs">Zip2R(1×)</text><path d="M1219 1011H1279M1468 1012H1687" stroke="#111" stroke-width="1.8"/>
<text class="t m" x="1579" y="1002" textLength="116" lengthAdjust="spacingAndGlyphs">Zip2R(2×)</text><text class="t" x="1428" y="1049" textLength="93" lengthAdjust="spacingAndGlyphs">Parallel</text><text class="t" x="1641" y="1049" textLength="144" lengthAdjust="spacingAndGlyphs">Antiparallel</text>
<g fill="url(#pm)">
<rect x="-8" width="16" height="95" transform="translate(1274,1099) rotate(5.400)"/>
<rect x="-8" width="16" height="88" transform="translate(1265,1194) rotate(10.400)"/>
</g>
<rect x="-8" width="16" height="184" fill="url(#pb)" transform="translate(1242,1104) rotate(-10.900)"/>
<g fill="url(#pb)">
<rect x="-8" width="16" height="30" transform="translate(1438,1132) rotate(-11.700)"/><rect x="-8" width="16" height="40" transform="translate(1444,1161) rotate(17.500)"/><rect x="-8" width="16" height="95" transform="translate(1432,1199) rotate(-1.200)"/>
<rect x="-8" width="16" height="37" transform="translate(1449,1128) rotate(7.700)"/><rect x="-8" width="16" height="36" transform="translate(1444,1165) rotate(-20.900)"/><rect x="-8" width="16" height="90" transform="translate(1457,1199) rotate(-5.100)"/>
<rect x="-8" width="16" height="66" transform="translate(1661,1120) rotate(6.900)"/><rect x="-8" width="16" height="108" transform="translate(1653,1186) rotate(-4.200)"/>
<rect x="-8" width="16" height="78" transform="translate(1752,1116) rotate(2.900)"/><rect x="-8" width="16" height="97" transform="translate(1748,1194) rotate(10.700)"/>
</g>
<g fill="url(#pm)">
<rect x="-8" width="16" height="74" transform="translate(1511,1120) rotate(-3.100)"/><rect x="-8" width="16" height="104" transform="translate(1515,1194) rotate(-4.400)"/>
<rect x="-8" width="16" height="83" transform="translate(1552,1108) rotate(20.400)"/><rect x="-8" width="16" height="43" transform="translate(1523,1186) rotate(29.600)"/><rect x="-8" width="16" height="43" transform="translate(1502,1223) rotate(13.400)"/>
<rect x="-8" width="16" height="83" transform="translate(1676,1116) rotate(-2.800)"/><rect x="-8" width="16" height="88" transform="translate(1680,1199) rotate(11.200)"/>
<rect x="-8" width="16" height="96" transform="translate(1719,1116) rotate(-9)"/><rect x="-8" width="16" height="89" transform="translate(1734,1211) rotate(-12.900)"/>
</g>
<g class="lp" stroke-width="1.800" filter="url(#wg)">
<g stroke="#8a85e0">
<path d="M1283 1279L1304 1296L1318 1284"/>
<path d="M1436 1117Q1420 1101 1412 1091Q1405 1081 1393 1084Q1382 1087 1376 1093Q1370 1099 1373 1107Q1376 1116 1390 1130Q1403 1145 1428 1132"/>
<path d="M1458 1301L1475 1323"/>
<path d="M1672 1124Q1692 1128 1703 1120Q1713 1112 1730 1108Q1746 1104 1756 1093"/>
<path d="M1725 1290Q1713 1302 1717 1312Q1721 1323 1735 1335Q1750 1347 1783 1323"/>
</g>
<g stroke="#d040d0">
<path d="M1248 1283L1232 1290L1254 1308"/>
<path d="M1526 1111Q1535 1087 1541 1076Q1548 1066 1565 1059Q1583 1052 1588 1061Q1593 1070 1576 1080Q1560 1091 1552 1099"/>
<path d="M1527 1306L1552 1333"/>
<path d="M1638 1124Q1624 1095 1635 1078Q1647 1062 1661 1062Q1676 1062 1696 1070Q1717 1079 1723 1085Q1730 1091 1728 1105"/>
<path d="M1763 1281L1800 1287"/>
</g>
</g>
<path d="M1218 1309H1336M1418 1310H1555M1699 1311H1802" stroke="#100008" stroke-width="5"/>
<g fill="#5aa010"><circle cx="1250" cy="1089" r="5.500"/><circle cx="1265" cy="1088" r="5.500"/><circle cx="1437" cy="1117" r="5.500"/><circle cx="1526" cy="1111" r="5.500"/><circle cx="1502" cy="1286" r="5.500"/><circle cx="1458" cy="1301" r="5"/><circle cx="1655" cy="1299" r="5"/><circle cx="1667" cy="1296" r="5"/><circle cx="1728" cy="1105" r="5.500"/><circle cx="1746" cy="1104" r="5.500"/></g>
<path d="M1482 1323V1335M1696 1320V1335" stroke="#44566a" stroke-width="2.5"/><path d="M1482 1341L1476 1331H1488ZM1696 1341L1690 1331H1702Z" fill="#44566a"/>
<g style="color:#4a47a8">
<use href="#ch" transform="translate(1269,1378) rotate(112.200) scale(.9,1.360)"/>
<use href="#ch" transform="translate(1437,1360) rotate(42.900) scale(.7,.55)"/>
<use href="#ch" transform="translate(1465,1343) rotate(31.800) scale(.75,2.200)"/>
<use href="#ch" transform="translate(1661,1475) rotate(133) scale(.9,1.300)"/>
<use href="#ch" transform="translate(1738,1455) rotate(-45) scale(.9,1.330)"/>
</g>
<g style="color:#a8108c">
<use href="#ch" transform="translate(1258,1345) rotate(-47.400) scale(.9,1.480)"/>
<use href="#ch" transform="translate(1477.500,1372) rotate(-91.500) scale(.75,2.200)"/>
<use href="#ch" transform="translate(1506,1393) rotate(157) scale(.7,.6)"/>
<use href="#ch" transform="translate(1684,1453) rotate(31) scale(.9,1.170)"/>
<use href="#ch" transform="translate(1750,1482) rotate(102) scale(.9,1)"/>
</g>
<g class="lp" stroke-width="2">
<path stroke="#8a85e0" d="M1414 1386Q1399 1382 1388 1375Q1378 1368 1363 1374Q1349 1380 1344 1393Q1339 1407 1358 1418Q1378 1428 1388 1420Q1397 1413 1401 1401L1405 1389"/>
<path stroke="#d040c0" d="M1554 1374Q1593 1385 1601 1399Q1610 1413 1601 1428Q1593 1442 1580 1442Q1568 1442 1556 1423Q1544 1405 1546 1397L1548 1389"/>
<path stroke="#6e68d0" d="M1668 1442Q1676 1422 1677 1410Q1678 1397 1687 1380Q1696 1364 1717 1356Q1738 1349 1748 1358Q1758 1368 1768 1386Q1779 1405 1773 1418Q1767 1430 1771 1446L1775 1463"/>
<path stroke="#d828c0" d="M1647 1488Q1614 1502 1601 1513Q1589 1525 1607 1540Q1626 1554 1644 1560Q1663 1566 1694 1560Q1725 1554 1733 1535Q1742 1517 1738 1505L1734 1494"/>
</g>
<g fill="#5aa010"><circle cx="1251" cy="1384" r="9.500"/><circle cx="1280" cy="1370" r="9.500"/><circle cx="1517" cy="1379" r="5.500"/><circle cx="1414" cy="1386" r="5.500"/><circle cx="1734" cy="1493" r="7.500"/><circle cx="1760" cy="1477" r="7.500"/></g>

<!-- panel g -->
<rect x="58" y="1631" width="16" height="29" fill="#008a00" stroke="#222" stroke-width="2.4"/><rect x="250" y="1631" width="16" height="29" fill="#909090" stroke="#222" stroke-width="2.4"/><rect x="446" y="1631" width="15" height="29" fill="#909090" stroke="#222" stroke-width="2.4"/>
<text class="t" x="87" y="1653" textLength="135" lengthAdjust="spacingAndGlyphs">Zip7R(2×) =</text><text class="t" x="278" y="1653" textLength="142" lengthAdjust="spacingAndGlyphs">IL-7Rα(2×) +</text><text class="t" x="472" y="1653" textLength="120" lengthAdjust="spacingAndGlyphs">IL-2Rγ(2×)</text>
<text class="t e" x="147" y="1708">NT</text><text class="t e" x="147" y="1750" textLength="116" lengthAdjust="spacingAndGlyphs">Zip7R(2×)</text>
<g class="bar"><rect x="163" y="1729" width="121" height="27" fill="#008a00"/><rect x="407" y="1730" width="82" height="26" fill="#008a00"/></g>
<path class="ax" d="M163 1672V1780M163 1770H340M207 1770V1780M251 1770V1780M296 1770V1780M340 1770V1780"/>
<path class="ax" d="M407 1672V1780M407 1770H586M451 1770V1780M496 1770V1780M541 1770V1780M586 1770V1780"/>
<path class="er" d="M475 1743H527"/>
<g class="o">
<circle cx="163" cy="1694" r="9"/><circle cx="163" cy="1707" r="9"/><circle cx="163" cy="1701" r="9"/>
<circle cx="299" cy="1741" r="9"/><circle cx="294" cy="1743" r="9"/><circle cx="273" cy="1748" r="9"/><circle cx="289" cy="1745" r="9"/><circle cx="281" cy="1737" r="9"/>
<circle cx="409" cy="1694" r="9"/><circle cx="408" cy="1707" r="9"/><circle cx="419" cy="1701" r="9"/>
<circle cx="462" cy="1737" r="9"/><circle cx="475" cy="1749" r="9"/><circle cx="469" cy="1743" r="9"/><circle cx="453" cy="1748" r="9"/><circle cx="527" cy="1743" r="9"/><circle cx="546" cy="1743" r="9"/>
</g>
<text class="s" x="350 350" y="1750 1764">**</text><text class="s" x="602" y="1750">*</text>
<text class="n m" x="163" y="1808">0</text><text class="n m" x="207" y="1808">25</text><text class="n m" x="251" y="1808">50</text><text class="n m" x="296" y="1808">75</text><text class="n m" x="340" y="1808">100</text>
<text class="n m" x="407" y="1808">0</text><text class="n m" x="451" y="1808">20</text><text class="n m" x="496" y="1808">40</text><text class="n m" x="541" y="1808">60</text><text class="n m" x="586" y="1808">80</text>
<text class="a m" x="252" y="1849" textLength="210" lengthAdjust="spacingAndGlyphs">Transduction (%)</text><text class="a m" x="496" y="1849" textLength="142" lengthAdjust="spacingAndGlyphs">pSTAT5 (%)</text>

<!-- panel h -->
<text class="t e" x="147" y="1935">NT</text><text class="t e" x="147" y="1978" textLength="116" lengthAdjust="spacingAndGlyphs">Zip7R(2×)</text>
<g class="bar"><rect x="155" y="1914" width="48" height="27" fill="#909090"/><rect x="155" y="1957" width="147" height="26" fill="#008a00"/></g>
<path class="ax" d="M155 1900V2008M155 1998H333.500M200 1998V2008M244 1998V2008M289 1998V2008M333.500 1998V2008"/>
<path class="er" d="M197 1928H220M277 1970H297M277 1964V1976"/>
<g class="o">
<circle cx="197" cy="1920" r="9"/><circle cx="220" cy="1928" r="9"/><circle cx="195" cy="1933" r="9"/>
<circle cx="254" cy="1970" r="9"/><circle cx="297" cy="1970" r="9"/><circle cx="318" cy="1963" r="9"/><circle cx="320" cy="1973" r="9"/><circle cx="309" cy="1976" r="9"/><circle cx="315" cy="1968" r="9"/>
</g>
<path d="M342 1928V1970" stroke="#444" stroke-width="1.8"/><text class="s" x="355" y="1967">*</text>
<text class="n m" x="155" y="2035">0</text><text class="n m" x="200" y="2035">25</text><text class="n m" x="244" y="2035">50</text><text class="n m" x="289" y="2035">75</text><text class="n m" x="333" y="2035">100</text>
<text class="a m" x="244" y="2075" textLength="95" lengthAdjust="spacingAndGlyphs">Live (%)</text>

<!-- panel i -->
<text class="e" font-size="21" x="863" y="1756">Zip2R(1×)</text><text class="e" font-size="21" x="863" y="1796">Zip2R(2×)</text><text class="e" font-size="21" x="863" y="1836">Zip7R(2×)</text><text class="e" font-size="21" x="863" y="1916">Zip2R(1×)</text><text class="e" font-size="21" x="863" y="1956">Zip2R(2×)</text><text class="e" font-size="21" x="863" y="1996">Zip7R(2×)</text>
<text class="t m" transform="translate(741,1785) rotate(-90)">Day 14</text><text class="t m" transform="translate(741,1950) rotate(-90)">Day 21</text>
<g class="bar">
<rect x="878" y="1736" width="8" height="25" fill="#b0bade"/><rect x="878" y="1775" width="140" height="25" fill="#6776bc"/><rect x="878" y="1815" width="120" height="25" fill="#008a00"/>
<rect x="878" y="1895" width="12" height="25" fill="#b0bade"/><rect x="878" y="1935" width="122" height="25" fill="#6776bc"/><rect x="878" y="1975" width="96" height="25" fill="#008a00"/>
</g>
<path class="ax" d="M878 1718V2025M878 2014H1056M923 2014V2025M967 2014V2025M1012 2014V2025M1056 2014V2025"/>
<path class="er" d="M981 1788H1052M1052 1781V1795M937 1828H1053M1053 1821V1835M949 1948H1044M1044 1941V1955M908 1988H1033M1033 1981V1995"/>
<g class="o">
<circle cx="887" cy="1744" r="8.700"/><circle cx="892" cy="1748" r="8.700"/><circle cx="879" cy="1753" r="8.700"/>
<circle cx="981" cy="1788" r="8.700"/><circle cx="1041" cy="1792" r="8.700"/><circle cx="1035" cy="1783" r="8.700"/>
<circle cx="937" cy="1828" r="8.700"/><circle cx="1033" cy="1833" r="8.700"/><circle cx="1026" cy="1824" r="8.700"/>
<circle cx="889" cy="1904" r="8.700"/><circle cx="902" cy="1913" r="8.700"/><circle cx="881" cy="1913" r="8.700"/>
<circle cx="949" cy="1948" r="8.700"/><circle cx="1029" cy="1953" r="8.700"/><circle cx="1021" cy="1944" r="8.700"/>
<circle cx="908" cy="1988" r="8.700"/><circle cx="1012" cy="1993" r="8.700"/><circle cx="1004" cy="1984" r="8.700"/>
</g>
<path d="M1076 1747V1788" stroke="#444" stroke-width="1.8"/><text class="s" x="1087" y="1786">*</text>
<text class="n m" x="878" y="2051">0</text><text class="n m" x="923" y="2051">25</text><text class="n m" x="967" y="2051">50</text><text class="n m" x="1012" y="2051">75</text><text class="n m" x="1056" y="2051">100</text>
<text class="a m" x="967" y="2090" textLength="95" lengthAdjust="spacingAndGlyphs">Live (%)</text>

<!-- panel j -->
<text class="m" transform="translate(1231,1833) rotate(-90)" style="font-size:28px" textLength="192" lengthAdjust="spacingAndGlyphs">Fold expansion</text>
<path class="ax" d="M1317 1683V1794M1310 1683H1317M1310 1721H1317M1310 1757H1317M1304 1794H1332M1312 1688H1317M1312 1692H1317M1312 1696H1317M1312 1702H1317M1312 1710H1317M1312 1726H1317M1312 1730H1317M1312 1734H1317M1312 1740H1317M1312 1748H1317M1312 1762H1317M1312 1766H1317M1312 1772H1317M1312 1780H1317"/>
<text class="n e" x="1294" y="1690">10<tspan dy="-9" font-size="16">8</tspan></text><text class="n e" x="1294" y="1727">10<tspan dy="-9" font-size="16">6</tspan></text><text class="n e" x="1294" y="1764">10<tspan dy="-9" font-size="16">4</tspan></text><text class="n e" x="1294" y="1800">10<tspan dy="-9" font-size="16">2</tspan></text>
<path d="M1351 1794L1369 1730" stroke="#000" stroke-width="6" stroke-dasharray="9 3"/><path d="M1357 1794L1381 1723" stroke="#222" stroke-width="2.500" stroke-dasharray="8 3"/><path d="M1354 1794L1376 1713" stroke="#000" stroke-width="2.500" stroke-dasharray="8 3"/>
<g fill="#8a8a8e" stroke="#444" stroke-width="1.5"><rect x="1369" y="1706" width="14" height="14"/><path d="M1368 1723L1376 1731L1368 1739L1360 1731Z"/><circle cx="1383" cy="1698" r="7.500"/><circle cx="1383" cy="1705" r="7.500"/><circle cx="1383" cy="1723" r="7.500"/></g>
<text class="s" x="1400" y="1734" textLength="54">****</text>
<g stroke="#444" stroke-width="3" stroke-dasharray="9 4"><path d="M1515 1681H1581M1515 1731H1581M1515 1781H1581"/></g>
<g fill="#8a8a8e" stroke="#444" stroke-width="1.5"><circle cx="1548" cy="1681" r="7"/><rect x="1542" y="1725" width="12" height="12"/><path d="M1548 1775L1554 1781L1548 1787L1542 1781Z"/></g>
<text x="1593" y="1690" style="font-size:28px">Jurkat (1 cell)</text><text x="1593" y="1739" style="font-size:28px">Jurkat (10 cells)</text><text x="1593" y="1789" style="font-size:28px">Jurkat (100 cells)</text>
<rect x="1317" y="1914" width="180" height="68" fill="#d3d3d3"/>
<path d="M1317 1914H1497" stroke="#444" stroke-width="1.6" stroke-dasharray="5 3"/>
<path class="ax" d="M1317 1846V1990M1304 1846H1332M1310 1914H1317M1312 1894H1317M1312 1882H1317M1312 1874H1317M1312 1868H1317M1312 1862H1317M1312 1937H1317M1312 1950H1317M1312 1960H1317M1312 1968H1317M1306 1982H1497M1377 1982V1990M1437 1982V1990M1497 1982V1990"/>
<path d="M1317 1907L1338.500 1847" stroke="#000" stroke-width="5" stroke-dasharray="8 3"/>
<text class="n e" x="1294" y="1852">10<tspan dy="-9" font-size="16">1</tspan></text><text class="n e" x="1294" y="1920">10<tspan dy="-9" font-size="16">0</tspan></text><text class="n e" x="1294" y="1988">10<tspan dy="-9" font-size="16">−1</tspan></text>
<g class="lp">
<polyline stroke="#18b018" stroke-width="6" points="1317,1914 1338,1927 1359,1935 1380,1945 1401,1952 1422,1965 1443,1972 1461,1977 1485,1981"/>
<polyline stroke="#f02020" stroke-width="7" points="1317,1914 1338,1923 1359,1930 1380,1938 1401,1946 1422,1957 1443,1964 1461,1968 1485,1972"/>
<polyline stroke="#f02020" stroke-width="3" points="1422,1945 1443,1950 1461,1953 1485,1949"/>
<polyline stroke="#000" stroke-width="3.500" points="1317,1914 1338,1920 1359,1927 1380,1935 1401,1942 1422,1953 1443,1960 1461,1962 1485,1966"/>
</g>
<g class="o">
<circle cx="1338" cy="1915" r="6"/><circle cx="1338" cy="1928" r="6"/><circle cx="1359" cy="1927" r="6"/><circle cx="1359" cy="1940" r="6"/><circle cx="1380" cy="1932" r="6"/><circle cx="1380" cy="1943" r="6"/><circle cx="1401" cy="1940" r="6"/><circle cx="1401" cy="1947" r="6"/><circle cx="1422" cy="1948" r="6"/><circle cx="1422" cy="1965" r="6" style="stroke:#18a018"/><circle cx="1422" cy="1959" r="6"/>
<circle cx="1443" cy="1952" r="6" style="stroke:#e02020"/><circle cx="1443" cy="1972" r="6" style="stroke:#e02020"/><circle cx="1443" cy="1967" r="6"/><circle cx="1443" cy="1958" r="6"/>
<circle cx="1461" cy="1972" r="6" style="stroke:#e02020"/><circle cx="1461" cy="1977" r="6" style="stroke:#18a018"/><circle cx="1461" cy="1965" r="6"/><circle cx="1461" cy="1957" r="6"/>
<circle cx="1485" cy="1949" r="6" style="stroke:#e02020"/><circle cx="1485" cy="1972" r="6" style="stroke:#e02020"/><circle cx="1485" cy="1961" r="6"/><circle cx="1485" cy="1979" r="6"/>
<circle cx="1317" cy="1914" r="6.500"/>
</g>
<path d="M1517 1894H1583" stroke="#000" stroke-width="3.500"/><path d="M1520 1944H1585" stroke="#f02020" stroke-width="3"/><path d="M1520 1994H1585" stroke="#18b018" stroke-width="3.500"/>
<circle cx="1549" cy="1894" r="6" fill="#fff" stroke="#222" stroke-width="1.6"/><circle cx="1552" cy="1944" r="6" fill="#fff" stroke="#f02020" stroke-width="1.6"/><circle cx="1552" cy="1994" r="6" fill="#fff" stroke="#18b018" stroke-width="1.6"/>
<text class="t" x="1596" y="1903">NT</text><text class="t" x="1596" y="1953" textLength="116" lengthAdjust="spacingAndGlyphs">Zip2R(2×)</text><text class="t" x="1596" y="2003" textLength="116" lengthAdjust="spacingAndGlyphs">Zip7R(2×)</text>
<text class="s" x="1744" y="1912">*</text><text class="s" x="1744" y="1959">*</text><text class="s" x="1738" y="2009">**</text>
<path d="M1779 1893V1992" stroke="#333" stroke-width="2"/>
<text class="m" style="font-size:28px" transform="translate(1794,1943) rotate(90)" textLength="158" lengthAdjust="spacingAndGlyphs">versus day 0</text>
<text class="n m" style="font-size:24px" x="1317" y="2016">0</text><text class="n m" style="font-size:24px" x="1377" y="2016">20</text><text class="n m" style="font-size:24px" x="1437" y="2016">40</text><text class="n m" style="font-size:24px" x="1497" y="2016">60</text>
<text class="a" x="1315" y="2060" textLength="187" lengthAdjust="spacingAndGlyphs">Days in culture</text>
</svg>
</body></html>
